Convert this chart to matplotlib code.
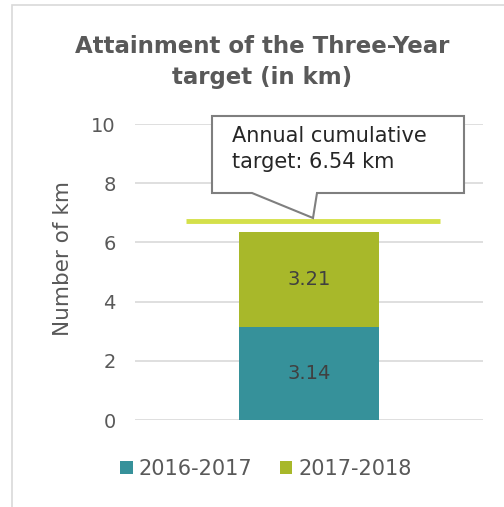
import matplotlib
matplotlib.use("Agg")
import matplotlib.pyplot as plt
from matplotlib.patches import Rectangle, Polygon

plt.rcParams['font.family'] = ['DejaVu Sans']

categories = [""]
series_names = ["2016-2017", "2017-2018"]
values_2016 = [3.14]
values_2017 = [3.21]
target_line_value = 6.72
target_text = "Annual cumulative\ntarget: 6.54 km"
title = "Attainment of the Three-Year\ntarget (in km)"
yticks = [0, 2, 4, 6, 8, 10]

c1 = "#36919a"
c2 = "#a8b82a"
ctarget = "#d4e04a"
gray = "#595959"

W, H = 504, 507
fig = plt.figure(figsize=(W / 100, H / 100), dpi=100)
ax = fig.add_axes([135 / W, 1 - 420 / H, 348 / W, 296 / H])

# outer border
fig.patches.append(Rectangle((12 / W, -0.1), 1.2, 1 - 5 / H + 0.1, transform=fig.transFigure,
                             fill=False, edgecolor="#d9d9d9", linewidth=1.2))

x = [0]
bw = 0.402
b1 = ax.bar(x, values_2016, width=bw, color=c1, label=series_names[0], zorder=3)
b2 = ax.bar(x, values_2017, width=bw, bottom=values_2016, color=c2, label=series_names[1], zorder=3)
for i in range(len(x)):
    ax.text(x[i], values_2016[i] / 2, f"{values_2016[i]:.2f}", ha="center", va="center",
            fontsize=14, color="#404040", zorder=4)
    ax.text(x[i], values_2016[i] + values_2017[i] / 2, f"{values_2017[i]:.2f}", ha="center",
            va="center", fontsize=14, color="#404040", zorder=4)

ax.hlines(target_line_value, -0.353, 0.376, color=ctarget, linewidth=3.5, zorder=4)

ax.set_xlim(-0.5, 0.5)
ax.set_ylim(0, 10)
ax.set_yticks(yticks)
ax.set_xticks([])
ax.yaxis.grid(True, color="#d9d9d9", linewidth=1.2, zorder=0)
ax.set_axisbelow(True)
for s in ax.spines.values():
    s.set_visible(False)
ax.tick_params(axis="y", length=0, pad=14, labelsize=14, labelcolor=gray)
fig.text(63 / W, 1 - 258 / H, "Number of km", rotation=90, ha="center", va="center",
         fontsize=15.5, color=gray)

# callout
def px(xp, yp):
    return (xp / W, 1 - yp / H)

box = [px(212, 116), px(464, 116), px(464, 193), px(317, 193), px(313, 218),
       px(252, 193), px(212, 193)]
fig.patches.append(Polygon(box, closed=True, transform=fig.transFigure, facecolor="white",
                           edgecolor="#7f7f7f", linewidth=1.5, zorder=5))
fig.text(232 / W, 1 - 126 / H, target_text, ha="left", va="top", fontsize=15,
         color="#262626", linespacing=1.4, zorder=6)

fig.text(262 / W, 1 - 62 / H, title, ha="center", va="center", fontsize=16.5,
         fontweight="bold", color=gray, linespacing=1.45)

fig.legend(handles=[b1, b2], labels=series_names, loc="center", bbox_to_anchor=(266 / W, 1 - 469 / H),
           ncol=2, frameon=False, fontsize=15, labelcolor=gray, handlelength=0.6, handleheight=0.6,
           handletextpad=0.3, columnspacing=1.3)

fig.savefig("out.png", dpi=100)
